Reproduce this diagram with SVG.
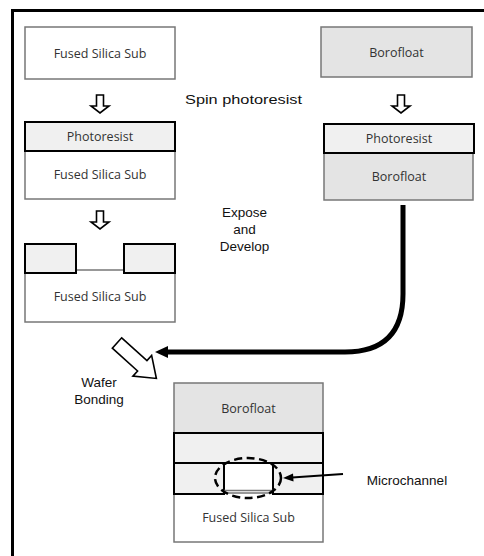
<svg xmlns="http://www.w3.org/2000/svg" width="484" height="556" viewBox="0 0 484 556">
<defs>
<style>
.sub{fill:#ffffff;stroke:#777777;stroke-width:1.5}
.boro{fill:#e4e4e4;stroke:#777777;stroke-width:1.5}
.pr{fill:#f0f0f0;stroke:#000000;stroke-width:2}
.lbl{font-family:"Open Sans","Noto Sans",sans-serif;font-size:12.5px;fill:#333333;text-anchor:middle}
.note{font-family:"Liberation Sans",Arial,sans-serif;font-size:13.5px;fill:#111111;text-anchor:middle}
.hollow{fill:#ffffff;stroke:#000000;stroke-width:1.6;stroke-linejoin:miter}
</style>
<polygon id="downArrow" points="-3.5,0 3.5,0 3.5,11 9,11 0,18 -9,11 -3.5,11"/>
</defs>

<g id="frame">
<line x1="12.5" y1="10.5" x2="484" y2="10.5" stroke="#000" stroke-width="3"/>
<line x1="12.5" y1="9" x2="12.5" y2="556" stroke="#000" stroke-width="3"/>
</g>

<g id="fs1">
<rect class="sub" x="25" y="27" width="150" height="52"/>
<text class="lbl" x="100" y="57.5">Fused Silica Sub</text>
</g>
<g id="arrowL1"><use href="#downArrow" class="hollow" x="100" y="95"/></g>

<g id="fs2">
<rect class="sub" x="25" y="151" width="150" height="48"/>
<rect class="pr" x="25" y="122" width="150" height="29"/>
<text class="lbl" x="100" y="141">Photoresist</text>
<text class="lbl" x="100" y="179">Fused Silica Sub</text>
</g>
<g id="arrowL2"><use href="#downArrow" class="hollow" x="100" y="211"/></g>

<g id="fs3">
<rect class="sub" x="25" y="270" width="150" height="52"/>
<rect class="pr" x="25" y="244" width="51" height="29"/>
<rect class="pr" x="124" y="244" width="51" height="29"/>
<text class="lbl" x="100" y="301">Fused Silica Sub</text>
</g>

<g id="boro1">
<rect class="boro" x="321" y="27" width="151" height="50"/>
<text class="lbl" x="396.5" y="56.5">Borofloat</text>
</g>
<g id="arrowR1"><use href="#downArrow" class="hollow" x="401" y="95"/></g>
<g id="boro2">
<rect class="boro" x="324" y="153" width="149" height="47"/>
<rect class="pr" x="324" y="124" width="150" height="29"/>
<text class="lbl" x="399" y="143">Photoresist</text>
<text class="lbl" x="399" y="180.5">Borofloat</text>
</g>

<g id="bonded">
<rect class="boro" x="174" y="383" width="149" height="50"/>
<rect class="sub" x="174" y="493" width="149" height="49"/>
<rect class="pr" x="174" y="433" width="149" height="30"/>
<rect class="pr" x="174" y="463" width="50" height="31"/>
<rect class="pr" x="273" y="463" width="50" height="31"/>
<line x1="224" y1="490.5" x2="273" y2="490.5" stroke="#777" stroke-width="1.5"/>
<text class="lbl" x="248.5" y="413">Borofloat</text>
<text class="lbl" x="248.5" y="521.5">Fused Silica Sub</text>
<ellipse cx="248" cy="478" rx="33" ry="20" fill="none" stroke="#000" stroke-width="2.5" stroke-dasharray="8 4.5"/>
</g>

<g id="labels">
<text class="note" x="243.5" y="104" textLength="117" lengthAdjust="spacingAndGlyphs">Spin photoresist</text>
<text class="note" x="244.5" y="217">Expose</text>
<text class="note" x="244.5" y="234">and</text>
<text class="note" x="244.5" y="251">Develop</text>
<text class="note" x="99" y="387">Wafer</text>
<text class="note" x="99" y="404">Bonding</text>
<text class="note" x="407" y="485">Microchannel</text>
</g>

<g id="connectors">
<path d="M403,205 L403,294 Q403,352 345,352 L166,352" fill="none" stroke="#000" stroke-width="5"/>
<polygon points="155,352 168,346 168,358" fill="#000"/>
<polygon class="hollow" transform="translate(117,343) rotate(42)" points="0,-7 34,-7 34,-14 53,0 34,14 34,7 0,7"/>
<line x1="343" y1="474" x2="292" y2="477.5" stroke="#000" stroke-width="2"/>
<polygon points="283,478 293,473.5 293.5,481.5" fill="#000"/>
</g>
</svg>
